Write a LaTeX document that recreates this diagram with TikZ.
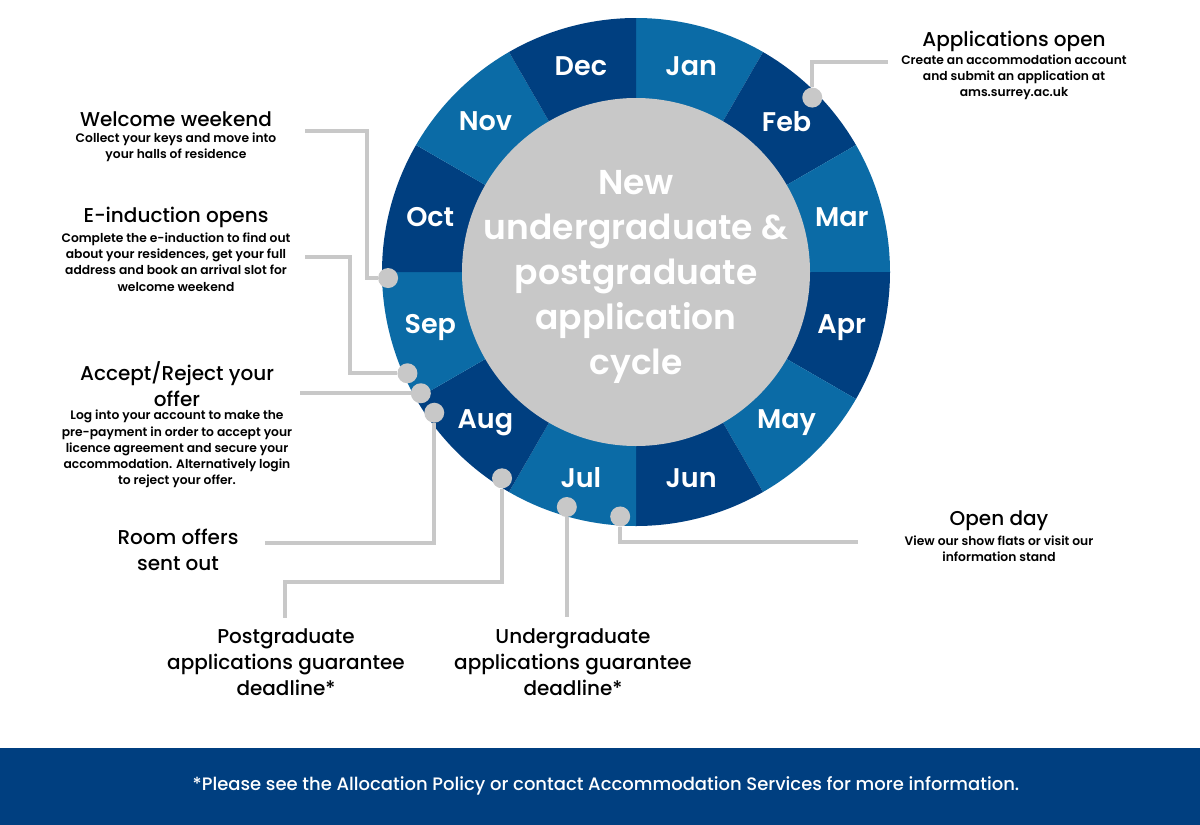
\documentclass[tikz,border=0pt]{standalone}
\usepackage{fontspec}
\setmainfont{Poppins}
\newfontfamily\medfont{Poppins Medium}
\newfontfamily\semifont{Poppins SemiBold}
\usetikzlibrary{positioning}

\definecolor{navy}{HTML}{003F80}
\definecolor{sky}{HTML}{0B6BA6}
\definecolor{ringgrey}{HTML}{C8C8C8}

\begin{document}
\begin{tikzpicture}[x=1pt, y=-1pt,
    month/.style={text=white, font=\semifont\fontsize{27}{27}\selectfont},
    dot/.style={circle, fill=ringgrey, minimum size=20pt, inner sep=0pt},
    link/.style={draw=ringgrey, line width=4pt},
    head/.style={align=center, inner sep=0pt, font=\medfont\fontsize{20}{26}\selectfont},
    info/.style={align=center, inner sep=0pt, font=\semifont\fontsize{12.3}{16.2}\selectfont}]

\useasboundingbox (0,0) rectangle (1200,825);
\fill[white] (0,0) rectangle (1200,825);

% Month wheel
\begin{scope}[shift={(636,272)}, yscale=-1]
    \foreach \m [count=\i] in {Jan,Feb,Mar,Apr,May,Jun,Jul,Aug,Sep,Oct,Nov,Dec} {
        \pgfmathsetmacro\a{90-30*\i}
        \ifodd\i \def\mcol{sky}\else\def\mcol{navy}\fi
        \fill[\mcol] (0,0) -- (\a+30:254) arc[start angle=\a+30, end angle=\a, radius=254] -- cycle;
        \node[month] (m\m) at (\a+15:213) {\m};
    }
    % Centre disk
    \fill[ringgrey] (0,0) circle[radius=174];
    \node[text=white, align=center, font=\semifont\fontsize{34.5}{45}\selectfont] (centre) at (0,-5)
        {New\\undergraduate \&\\postgraduate\\application\\cycle};
    % Event dots
    \node[dot] (dfeb) at (44.7:248) {};
    \node[dot] (dwel) at (181.4:248) {};
    \node[dot] (dind) at (203.9:250) {};
    \node[dot] (dacc) at (209.4:247) {};
    \node[dot] (droom) at (214.9:246) {};
    \node[dot] (dpg) at (237:246) {};
    \node[dot] (dug) at (253.6:245) {};
    \node[dot] (dod) at (266.3:245) {};
\end{scope}

% Connector ends
\coordinate (cfeb) at (888,62);
\coordinate (kwel) at (367,131);
\coordinate (cwel) at (305,131);
\coordinate (kind) at (350,257);
\coordinate (cind) at (305,257);
\coordinate (cacc) at (300,393);
\coordinate (croom) at (265,543);
\coordinate (kpg) at (285,582);
\coordinate (cpg) at (285,618);
\coordinate (cug) at (567,617);
\coordinate (cod) at (858,542);

% Connectors
\draw[link] (dfeb) |- (cfeb);
\draw[link] (dwel) -| (kwel) -- (cwel);
\draw[link] (dind) -| (kind) -- (cind);
\draw[link] (dacc) -- (dacc -| cacc);
\draw[link] (droom) |- (croom);
\draw[link] (dpg) |- (kpg) -- (cpg);
\draw[link] (dug) -- (dug |- cug);
\draw[link] (dod) |- (cod);

% Event texts
\node[head] (tapp) at (1014,41) {Applications open};
\node[info] (sapp) at (1014,77) {Create an accommodation account\\and submit an application at\\ams.surrey.ac.uk};

\node[head] (twel) at (176,119) {Welcome weekend};
\node[info] (swel) at (176,147) {Collect your keys and move into\\your halls of residence};

\node[head] (tind) at (176,217) {E-induction opens};
\node[info] (sind) at (176,262) {Complete the e-induction to find out\\about your residences, get your full\\address and book an arrival slot for\\welcome weekend};

\node[head] (tacc) at (177,384) {Accept/Reject your\\offer};
\node[info] (sacc) at (177,449) {Log into your account to make the\\pre-payment in order to accept your\\licence agreement and secure your\\accommodation. Alternatively login\\to reject your offer.};

\node[head] (troom) at (178,550) {Room offers\\sent out};

\node[head] (tpg) at (286,662) {Postgraduate\\applications guarantee\\deadline*};
\node[head] (tug) at (573,662) {Undergraduate\\applications guarantee\\deadline*};

\node[head] (tod) at (999,521) {Open day};
\node[info] (sod) at (999,549) {View our show flats or visit our\\information stand};

% Footer band
\fill[navy] (0,748) rectangle (1200,825);
\node[text=white, font=\medfont\fontsize{18}{18}\selectfont] (note) at (606,786)
    {*Please see the Allocation Policy or contact Accommodation Services for more information.};

\end{tikzpicture}
\end{document}
